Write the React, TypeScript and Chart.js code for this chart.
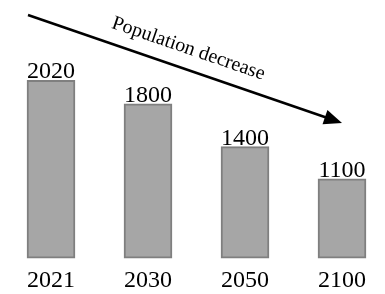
import React, { useEffect, useRef } from "react";
import { Chart, registerables } from "chart.js";

Chart.register(...registerables);

const years = ["2021", "2030", "2050", "2100"];
const population = [2020, 1800, 1400, 1100];
const arrowLabel = "Population decrease";
const axisMin = 358;
const axisMax = 2771;

const FONT = "'Liberation Serif', 'DejaVu Serif', serif";

const overlayPlugin = {
  id: "overlay",
  afterDatasetsDraw(chart: any) {
    const ctx = chart.ctx;
    const meta = chart.getDatasetMeta(0);
    const data = chart.data.datasets[0].data;
    ctx.save();
    // value labels
    ctx.fillStyle = "#000";
    ctx.font = `24px ${FONT}`;
    ctx.textAlign = "center";
    ctx.textBaseline = "alphabetic";
    meta.data.forEach((bar: any, i: number) => {
      ctx.fillText(String(data[i]), bar.x, bar.y - 2);
    });
    // arrow
    const first = meta.data[0];
    const last = meta.data[meta.data.length - 1];
    const x0 = first.x - first.width / 2 + 1;
    const y0 = chart.chartArea.top + 15;
    const x1 = last.x;
    const y1 = chart.chartArea.top + 123;
    const ang = Math.atan2(y1 - y0, x1 - x0);
    const headLen = 18;
    const headHalf = 7.5;
    const bx = x1 - headLen * Math.cos(ang);
    const by = y1 - headLen * Math.sin(ang);
    ctx.strokeStyle = "#000";
    ctx.lineWidth = 2.5;
    ctx.beginPath();
    ctx.moveTo(x0, y0);
    ctx.lineTo(bx + 2 * Math.cos(ang), by + 2 * Math.sin(ang));
    ctx.stroke();
    ctx.fillStyle = "#000";
    ctx.beginPath();
    ctx.moveTo(x1, y1);
    ctx.lineTo(bx + headHalf * Math.sin(ang), by - headHalf * Math.cos(ang));
    ctx.lineTo(bx - headHalf * Math.sin(ang), by + headHalf * Math.cos(ang));
    ctx.closePath();
    ctx.fill();
    // arrow text
    const t = 0.49;
    const mx = x0 + (x1 - x0) * t;
    const my = y0 + (y1 - y0) * t;
    const off = 15;
    const tx = mx + off * Math.sin(ang);
    const ty = my - off * Math.cos(ang);
    ctx.translate(tx, ty);
    ctx.rotate(ang);
    ctx.font = `20px ${FONT}`;
    ctx.textAlign = "center";
    ctx.textBaseline = "alphabetic";
    ctx.fillText(arrowLabel, 0, 0);
    ctx.restore();
  },
};

export default function App() {
  const ref = useRef<HTMLCanvasElement>(null);
  useEffect(() => {
    if (!ref.current) return;
    const chart = new Chart(ref.current, {
      type: "bar",
      data: {
        labels: years,
        datasets: [
          {
            data: population,
            base: axisMin,
            backgroundColor: "#a6a6a6",
            borderColor: "#7f7f7f",
            borderWidth: 2,
            borderSkipped: false,
            barThickness: 48,
            clip: false as any,
          },
        ],
      },
      options: {
        responsive: false,
        animation: false,
        layout: { padding: { left: 51, right: 43, top: 0, bottom: -9 } },
        plugins: { legend: { display: false }, tooltip: { enabled: false } },
        scales: {
          x: {
            offset: false,
            grid: { display: false, drawTicks: false, tickLength: 0 },
            border: { display: false },
            ticks: {
              color: "#000",
              padding: 8,
              maxRotation: 0,
              font: { family: FONT, size: 24 },
            },
          },
          y: {
            display: false,
            min: axisMin,
            max: axisMax,
          },
        },
      },
      plugins: [overlayPlugin],
    });
    return () => chart.destroy();
  }, []);
  return (
    <canvas
      ref={ref}
      width={385}
      height={294}
      style={{ position: "fixed", left: 0, top: 0, display: "block" }}
    />
  );
}
